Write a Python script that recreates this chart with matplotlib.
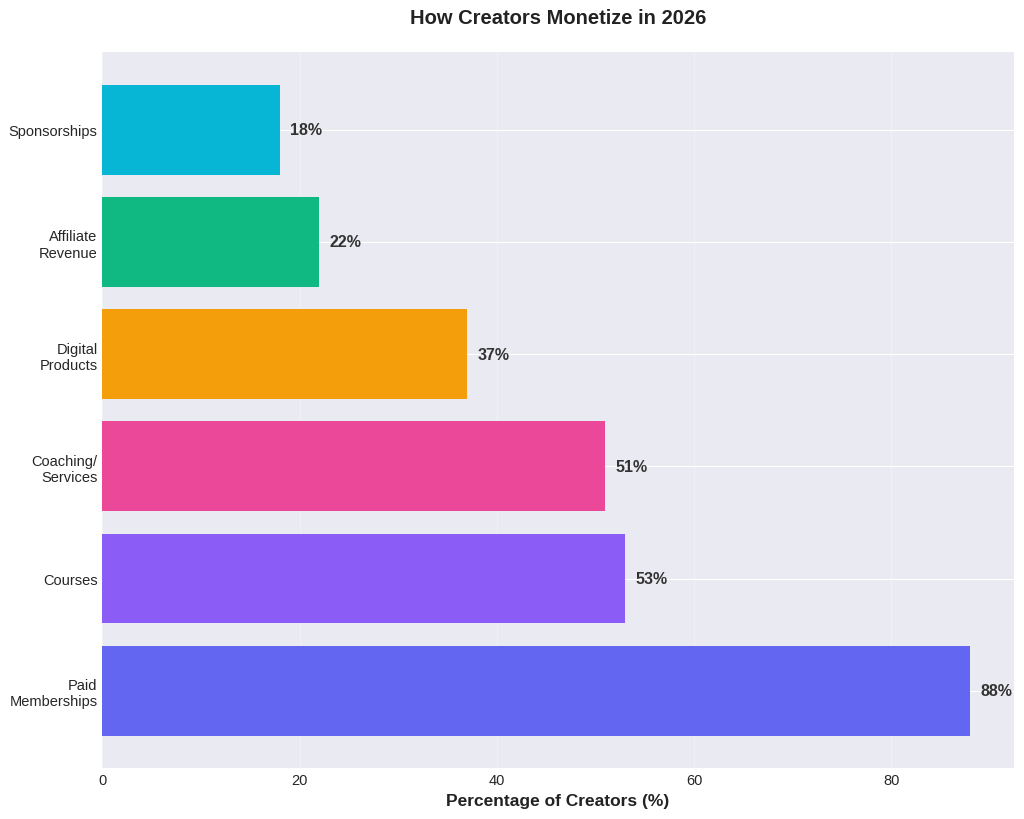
import matplotlib
matplotlib.use("Agg")
import matplotlib.pyplot as plt

plt.style.use("seaborn-v0_8-darkgrid")
plt.rcParams['font.family'] = ['Liberation Sans', 'DejaVu Sans']

categories = ["Paid\nMemberships", "Courses", "Coaching/\nServices", "Digital\nProducts", "Affiliate\nRevenue", "Sponsorships"]
values = [88, 53, 51, 37, 22, 18]
colors = ["#6366F1", "#8B5CF6", "#EC4899", "#F59E0B", "#10B981", "#06B6D4"]

fig, ax = plt.subplots(figsize=(10.24, 8.2), dpi=100)
bars = ax.barh(categories, values, color=colors, height=0.8)
for b, v in zip(bars, values):
    ax.text(b.get_width() + 1, b.get_y() + b.get_height() / 2, f"{v}%",
            va="center", ha="left", fontsize=11.5, fontweight="bold", color="#333333")

ax.set_xlabel("Percentage of Creators (%)", fontsize=12.5, fontweight="bold", color="#222222")
ax.set_title("How Creators Monetize in 2026", fontsize=14.5, fontweight="bold", pad=21, color="#222222")
ax.grid(axis="x", alpha=0.3)
ax.tick_params(labelsize=10.5)
fig.subplots_adjust(left=0.1, right=0.99, top=0.935, bottom=0.062)
fig.savefig("out.png", dpi=100)
